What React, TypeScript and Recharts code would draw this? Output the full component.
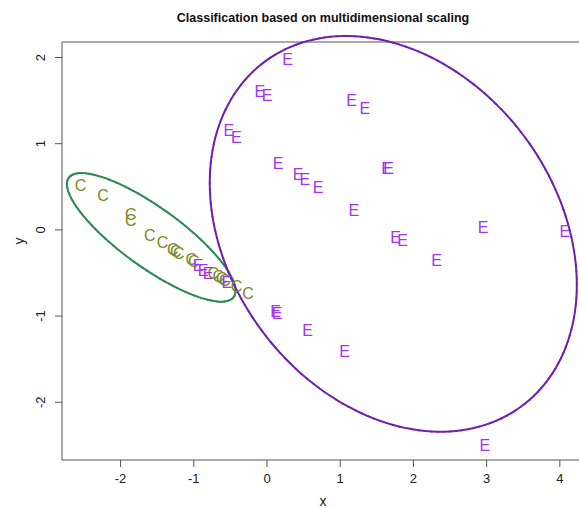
import React from 'react';
import { ScatterChart, Scatter, XAxis, YAxis, ReferenceLine, ReferenceArea } from 'recharts';

// Class "C" points
const cX = [-2.548, -2.239, -1.861, -1.861, -1.601, -1.428, -1.287, -1.246, -1.205, -1.034, -1.0, -0.734, -0.665, -0.617, -0.577, -0.417, -0.258];
const cY = [0.515, 0.398, 0.186, 0.116, -0.058, -0.143, -0.221, -0.244, -0.267, -0.337, -0.36, -0.505, -0.54, -0.563, -0.587, -0.659, -0.735];

// Class "E" points
const eX = [-0.941, -0.873, -0.805, -0.549, 0.28, -0.098, 0.001, 1.154, 1.336, -0.522, -0.419, 0.152, 0.425, 0.516, 0.698, 1.633, 1.66, 1.186, 1.755, 1.851, 2.316, 2.952, 4.068, 0.116, 0.138, 0.553, 1.059, 2.975];
const eY = [-0.406, -0.465, -0.503, -0.61, 1.983, 1.614, 1.568, 1.51, 1.413, 1.156, 1.08, 0.775, 0.645, 0.592, 0.496, 0.717, 0.717, 0.232, -0.085, -0.124, -0.357, 0.031, -0.012, -0.949, -0.972, -1.17, -1.413, -2.497];

// Ellipses: centre and two conjugate half-axis vectors (data units)
const greenCenter = [-1.581, -0.087];
const greenU = [1.127, -0.691];
const greenV = [-0.238, -0.281];
const purpleCenter = [1.725, -0.046];
const purpleU = [2.507, -0.592];
const purpleV = [0, -2.218];

const xTicks = [-2, -1, 0, 1, 2, 3, 4];
const yTicks = [-2, -1, 0, 1, 2];
const xDomain = [-2.8, 4.33];
const yDomain = [-2.67, 2.18];

const FONT = '"Liberation Sans", Arial, Helvetica, sans-serif';
const C_COLOR = '#7a8b22';
const E_COLOR = '#a535ec';
const GREEN = '#2e8b57';
const PURPLE = '#7020b0';
const AXIS = '#555';

function ellipsePoints(c: number[], u: number[], v: number[], n: number) {
  const pts: { x: number; y: number }[] = [];
  for (let i = 0; i <= n; i++) {
    const t = (2 * Math.PI * i) / n;
    pts.push({ x: c[0] + u[0] * Math.cos(t) + v[0] * Math.sin(t), y: c[1] + u[1] * Math.cos(t) + v[1] * Math.sin(t) });
  }
  return pts;
}

const letterShape = (ch: string, color: string) => (props: any) => {
  const { cx, cy } = props;
  if (cx == null || cy == null) return <g />;
  return (
    <text x={cx} y={cy} dy="0.36em" textAnchor="middle" fontSize={16} fontFamily={FONT} fill={color}>
      {ch}
    </text>
  );
};

const YTick = (props: any) => {
  const { x, y, payload } = props;
  return (
    <text x={x} y={y} transform={`rotate(-90, ${x}, ${y})`} textAnchor="middle" fontSize={13} fontFamily={FONT} fill="#222">
      {payload.value}
    </text>
  );
};

const XLabel = (props: any) => {
  const vb = props.viewBox || { x: 62, y: 460, width: 522, height: 48 };
  return (
    <text x={vb.x + vb.width / 2} y={vb.y + 46} textAnchor="middle" fontSize={14} fontFamily={FONT} fill="#222">
      x
    </text>
  );
};

const YLabel = (props: any) => {
  const x = 24;
  const y = 241;
  return (
    <text x={x} y={y} transform={`rotate(-90, ${x}, ${y})`} textAnchor="middle" fontSize={14} fontFamily={FONT} fill="#222">
      y
    </text>
  );
};

export default function App() {
  const cData = cX.map((x, i) => ({ x, y: cY[i] }));
  const eData = eX.map((x, i) => ({ x, y: eY[i] }));
  const green = ellipsePoints(greenCenter, greenU, greenV, 120);
  const purple = ellipsePoints(purpleCenter, purpleU, purpleV, 180);

  const segs = (pts: { x: number; y: number }[], color: string, key: string) =>
    pts.slice(0, -1).map((p, i) => (
      <ReferenceLine
        key={key + i}
        segment={[p, pts[i + 1]]}
        stroke={color}
        strokeWidth={2}
        strokeLinecap="round"
        ifOverflow="visible"
      />
    ));

  return (
    <div style={{ position: 'absolute', left: 0, top: 0, width: 579, height: 508, overflow: 'hidden', background: '#fff' }}>
      <ScatterChart width={600} height={508} margin={{ top: 42, right: 16, bottom: 0, left: 0 }}>
        <XAxis
          type="number"
          dataKey="x"
          domain={xDomain}
          ticks={xTicks}
          allowDataOverflow
          axisLine={false}
          tickSize={7}
          tickMargin={7}
          tickLine={{ stroke: AXIS }}
          tick={{ fontSize: 13, fill: '#222', fontFamily: FONT }}
          height={48}
          label={<XLabel />}
        />
        <YAxis
          type="number"
          dataKey="y"
          domain={yDomain}
          ticks={yTicks}
          allowDataOverflow
          axisLine={false}
          tickSize={7}
          tickMargin={10}
          tickLine={{ stroke: AXIS }}
          tick={<YTick />}
          width={62}
          label={<YLabel />}
        />
        <ReferenceArea x1={xDomain[0]} x2={xDomain[1]} y1={yDomain[0]} y2={yDomain[1]} fill="none" fillOpacity={0} stroke={AXIS} strokeWidth={1} ifOverflow="visible" />
        <Scatter data={cData} shape={letterShape('C', C_COLOR)} isAnimationActive={false} />
        <Scatter data={eData} shape={letterShape('E', E_COLOR)} isAnimationActive={false} />
        {segs(green, GREEN, 'g')}
        {segs(purple, PURPLE, 'p')}
      </ScatterChart>
      <div
        style={{
          position: 'absolute',
          left: 0,
          top: 11,
          width: 646,
          textAlign: 'center',
          fontFamily: FONT,
          fontWeight: 'bold',
          fontSize: 12.5,
          lineHeight: '14px',
          color: '#111',
          whiteSpace: 'nowrap',
        }}
      >
        Classification based on multidimensional scaling
      </div>
    </div>
  );
}
